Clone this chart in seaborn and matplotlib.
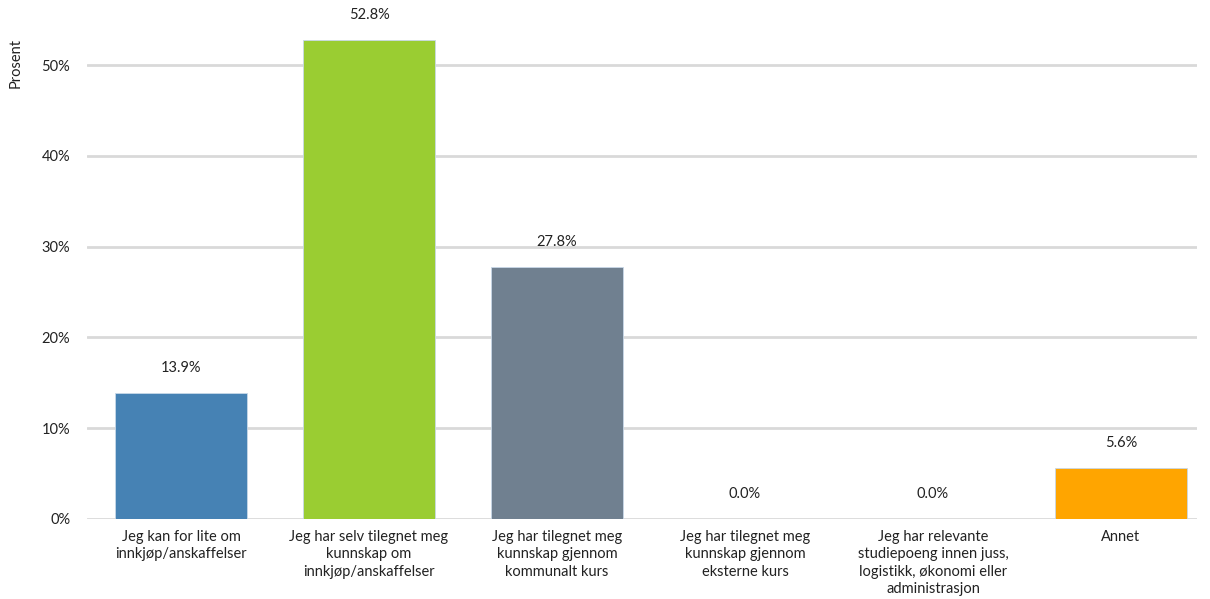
import matplotlib
matplotlib.use("Agg")
import matplotlib.pyplot as plt
import seaborn as sns
import pandas as pd

categories = [
    "Jeg kan for lite om\ninnkjøp/anskaffelser",
    "Jeg har selv tilegnet meg\nkunnskap om\ninnkjøp/anskaffelser",
    "Jeg har tilegnet meg\nkunnskap gjennom\nkommunalt kurs",
    "Jeg har tilegnet meg\nkunnskap gjennom\neksterne kurs",
    "Jeg har relevante\nstudiepoeng innen juss,\nlogistikk, økonomi eller\nadministrasjon",
    "Annet",
]
values = [13.9, 52.8, 27.8, 0.0, 0.0, 5.6]
colors = ["#4682B4", "#9ACD32", "#708090", "#708090", "#708090", "#FFA500"]
yticks = [0, 10, 20, 30, 40, 50]

sns.set_theme(style="white")
plt.rcParams["font.family"] = ["Lato", "DejaVu Sans"]

df = pd.DataFrame({"cat": categories, "val": values})

fig = plt.figure(figsize=(12.10, 5.99), dpi=100)
ax = fig.add_axes([87/1210, 80/599, (1197-87)/1210, (519-1)/599])

sns.barplot(data=df, x="cat", y="val", hue="cat", palette=colors, legend=False,
            saturation=1, width=0.707, ax=ax, edgecolor="#c8d8e8", linewidth=0.6,
            zorder=3)

ax.set_ylim(0, 57.05)
ax.set_xlim(-0.5, -0.5 + 1110/188)
ax.set_yticks(yticks)
ax.set_yticklabels([f"{t}%" for t in yticks], fontsize=10.5, color="#222222")
ax.tick_params(axis="y", length=0, pad=12)
ax.tick_params(axis="x", length=0, pad=8)
ax.set_xticks(range(len(categories)))
ax.set_xticklabels(categories, fontsize=10.5, color="#222222", linespacing=1.3)
for t in yticks:
    ax.axhline(t, color="#d9d9d9", linewidth=2, zorder=1)
for s in ax.spines.values():
    s.set_visible(False)
ax.set_xlabel("")
ax.set_ylabel("Prosent", fontsize=10.5, color="#222222")
ax.yaxis.set_label_coords(-0.0645, 0.929)
ax.yaxis.label.set_verticalalignment("center")
ax.yaxis.label.set_horizontalalignment("right")

for i, v in enumerate(values):
    ax.annotate(f"{v:.1f}%", (i, v), xytext=(0, 13), textcoords="offset points",
                ha="center", va="bottom", fontsize=10.5, color="#222222")

fig.savefig("out.png", dpi=100)
